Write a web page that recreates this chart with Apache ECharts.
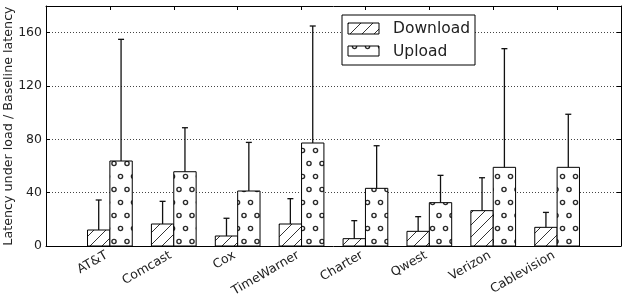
<!DOCTYPE html>
<html><head><meta charset="utf-8">
<script src="https://cdn.jsdelivr.net/npm/echarts@6/dist/echarts.min.js"></script>
<style>html,body{margin:0;padding:0;background:#fff}#c{width:627px;height:294px}</style>
</head><body><div id="c"></div>
<script>
const categories = ['AT&T','Comcast','Cox','TimeWarner','Charter','Qwest','Verizon','Cablevision'];
const downloadMean = [12, 16.5, 7.5, 16.5, 5.5, 11, 26.5, 14];
const downloadErrTop = [34.5, 33.5, 20.8, 35.5, 19, 22, 51.2, 25.2];
const uploadMean = [63.75, 55.7, 41.25, 77.25, 43.25, 32.5, 59, 59];
const uploadErrTop = [155, 88.7, 77.7, 165, 75.2, 53, 148, 98.8];
const yTicks = [0, 40, 80, 120, 160];
const seriesNames = ['Download', 'Upload'];

const FONT = 'DejaVu Sans';
const BW = 0.35;

function hatchTile() {
  const s = 12, c = document.createElement('canvas');
  c.width = s; c.height = s;
  const g = c.getContext('2d');
  g.fillStyle = '#fff'; g.fillRect(0, 0, s, s);
  g.strokeStyle = '#333'; g.lineWidth = 1;
  g.beginPath();
  g.moveTo(-2, s + 2); g.lineTo(s + 2, -2);
  g.moveTo(-2, 2); g.lineTo(2, -2);
  g.moveTo(s - 2, s + 2); g.lineTo(s + 2, s - 2);
  g.stroke();
  return c;
}
function dotTile() {
  const w = 13, h = 26, c = document.createElement('canvas');
  c.width = w; c.height = h;
  const g = c.getContext('2d');
  g.fillStyle = '#fff'; g.fillRect(0, 0, w, h);
  g.strokeStyle = '#2a2a2a'; g.lineWidth = 1.4;
  const pts = [[10, 7.5], [3.5, 20.5]];
  pts.forEach(p => { g.beginPath(); g.arc(p[0], p[1], 2.1, 0, Math.PI * 2); g.stroke(); });
  return c;
}
const hatchFill = { image: hatchTile(), repeat: 'repeat' };
const dotFill = { image: dotTile(), repeat: 'repeat' };

function makeRender(offset, fill) {
  return function (params, api) {
    const x = api.value(0), v = api.value(1), e = api.value(2);
    const pl = api.coord([x + offset, v]);
    const pr = api.coord([x + offset + BW, 0]);
    const ce = api.coord([x + offset + BW / 2, e]);
    return {
      type: 'group',
      children: [
        { type: 'rect', shape: { x: pl[0], y: pl[1], width: pr[0] - pl[0], height: pr[1] - pl[1] },
          style: { fill: fill, stroke: '#000', lineWidth: 1 } },
        { type: 'line', shape: { x1: ce[0], y1: pl[1], x2: ce[0], y2: ce[1] },
          style: { stroke: '#111', lineWidth: 1.3 } },
        { type: 'line', shape: { x1: ce[0] - 3, y1: ce[1], x2: ce[0] + 3, y2: ce[1] },
          style: { stroke: '#111', lineWidth: 1.3 } }
      ]
    };
  };
}

const dData = categories.map((c, i) => [i + 1, downloadMean[i], downloadErrTop[i]]);
const uData = categories.map((c, i) => [i + 1, uploadMean[i], uploadErrTop[i]]);

const chart = echarts.init(document.getElementById('c'), null, { renderer: 'canvas' });
const axisCommonX = { type: 'value', min: 0, max: 9, interval: 1 };
const axisCommonY = { type: 'value', min: 0, max: 180, interval: 40 };
const blackLine = { onZero: false, lineStyle: { color: '#000', width: 1 } };
chart.setOption({
  animation: false,
  textStyle: { fontFamily: FONT },
  grid: { left: 46, right: 6, top: 6, bottom: 48, containLabel: false, outerBoundsMode: 'none' },
  xAxis: [
    Object.assign({}, axisCommonX, {
      position: 'bottom',
      axisLine: blackLine,
      axisTick: { show: false },
      splitLine: { show: false },
      axisLabel: { rotate: 30, fontSize: 12.5, color: '#222', fontFamily: FONT, margin: 14,
        verticalAlign: 'bottom',
        formatter: v => categories[v - 1] || '' }
    }),
    Object.assign({}, axisCommonX, {
      position: 'top',
      axisLine: blackLine,
      axisTick: { inside: true, length: 4, lineStyle: { color: '#000' } },
      splitLine: { show: false },
      axisLabel: { show: false }
    })
  ],
  yAxis: [
    Object.assign({}, axisCommonY, {
      position: 'left',
      name: 'Latency under load / Baseline latency',
      nameLocation: 'middle',
      nameGap: 31,
      nameMoveOverlap: false,
      nameTextStyle: { fontSize: 12.7, color: '#222', fontFamily: FONT },
      axisLine: blackLine,
      axisTick: { inside: true, length: 4, lineStyle: { color: '#000' } },
      axisLabel: { fontSize: 12.5, color: '#222', fontFamily: FONT, margin: 4, showMaxLabel: false,
        formatter: v => yTicks.indexOf(v) >= 0 ? String(v) : '' },
      splitLine: { show: true, lineStyle: { color: '#444', width: 1, type: [1, 2] } }
    }),
    Object.assign({}, axisCommonY, {
      position: 'right',
      axisLine: blackLine,
      axisTick: { inside: true, length: 4, lineStyle: { color: '#000' } },
      axisLabel: { show: false },
      splitLine: { show: false }
    })
  ],
  series: [
    { type: 'custom', name: seriesNames[0], xAxisIndex: 0, yAxisIndex: 0, data: dData,
      renderItem: makeRender(-BW, hatchFill), encode: { x: 0, y: [1, 2] } },
    { type: 'custom', name: seriesNames[1], xAxisIndex: 0, yAxisIndex: 0, data: uData,
      renderItem: makeRender(0, dotFill), encode: { x: 0, y: [1, 2] } }
  ],
  graphic: [
    { type: 'rect', z: 100, shape: { x: 342, y: 15, width: 133, height: 50 },
      style: { fill: '#fff', stroke: '#000', lineWidth: 1 } },
    { type: 'rect', z: 101, shape: { x: 348, y: 23, width: 31, height: 11 },
      style: { fill: hatchFill, stroke: '#000', lineWidth: 1 } },
    { type: 'rect', z: 101, shape: { x: 348, y: 46, width: 31, height: 10 },
      style: { fill: dotFill, stroke: '#000', lineWidth: 1 } },
    { type: 'text', z: 101, x: 393, y: 28.5,
      style: { text: seriesNames[0], fontSize: 15.5, fontFamily: FONT, fill: '#222', verticalAlign: 'middle' } },
    { type: 'text', z: 101, x: 393, y: 51.5,
      style: { text: seriesNames[1], fontSize: 15.5, fontFamily: FONT, fill: '#222', verticalAlign: 'middle' } }
  ]
});
</script></body></html>
